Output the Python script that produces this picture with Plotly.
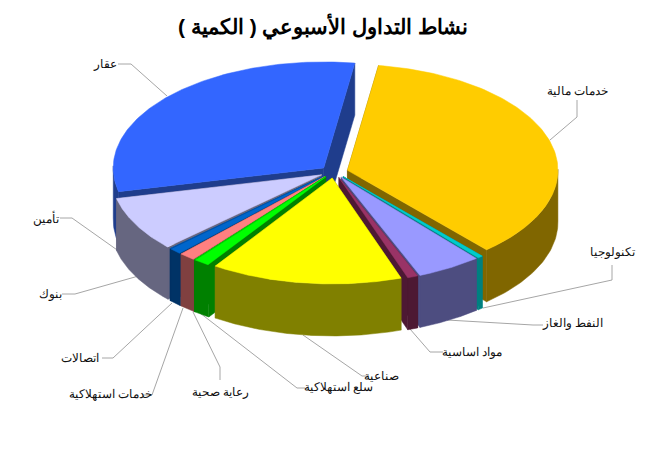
import numpy as np
import plotly.graph_objects as go

title_text = "نشاط التداول الأسبوعي ( الكمية )"
sectors = ["خدمات مالية", "تكنولوجيا", "النفط والغاز", "مواد اساسية", "صناعية", "سلع استهلاكية",
           "رعاية صحية", "خدمات استهلاكية", "اتصالات", "بنوك", "تأمين", "عقار"]
shares = [36.2, 0.4, 5.0, 0.8, 14.7, 1.25, 0.05, 1.3, 1.0, 0.05, 8.4, 31.0]
top_colors = ["#ffcc00", "#00cccc", "#9999ff", "#993366", "#ffff00", "#00ff00",
              "#00ff00", "#ff8080", "#0066cc", "#0066cc", "#ccccff", "#3366ff"]
wall_colors = ["#806600", "#008080", "#4d4d80", "#4d1933", "#808000", "#008000",
               "#008000", "#804040", "#003366", "#003366", "#666680", "#1f3d8c"]

# label centre and its leader-line path (layout furniture, page pixels)
label_layout = {
    "عقار": ((105, 64), [(118, 64), (131, 64), (167, 96)]),
    "خدمات مالية": ((577, 91), [(577, 100), (577, 117), (550, 140)]),
    "تكنولوجيا": ((612, 252), [(612, 265), (612, 280), (483, 308)]),
    "النفط والغاز": ((572, 323), [(543, 325), (533, 325), (447, 320)]),
    "مواد اساسية": ((472, 352), [(443, 352), (430, 352), (410, 329)]),
    "صناعية": ((381, 376), [(368, 376), (362, 376), (303, 335)]),
    "سلع استهلاكية": ((338, 387), [(305, 388), (297, 388), (200, 313)]),
    "رعاية صحية": ((220, 392), [(220, 380), (220, 367), (193, 312)]),
    "خدمات استهلاكية": ((110, 394), [(142, 395), (152, 395), (183, 308)]),
    "اتصالات": ((80, 358), [(102, 358), (113, 358), (172, 303)]),
    "بنوك": ((50, 294), [(62, 294), (75, 294), (142, 275)]),
    "تأمين": ((46, 218), [(60, 218), (72, 218), (120, 252)]),
}

START_DEG, CX, CY, A, B, DEPTH, EX, EY = 8.5, 334, 172, 210.5, 106, 52, 14, 6
PAGE_MARGIN = 8  # the page body offsets the figure by this much

fractions = np.array(shares) / sum(shares)
edges = START_DEG + 360 * np.concatenate([[0], np.cumsum(fractions)])

fig = go.Figure()


def poly(xs, ys, color):
    fig.add_trace(go.Scatter(x=xs, y=ys, mode="lines", fill="toself", fillcolor=color,
                             line=dict(color=color, width=0.5), hoverinfo="skip", showlegend=False))


# leader lines first, so the pie covers their inner ends
for name in sectors:
    (lx, ly), path = label_layout[name]
    fig.add_trace(go.Scatter(x=[p[0] for p in path], y=[p[1] for p in path], mode="lines",
                             line=dict(color="#a6a6a6", width=1), hoverinfo="skip", showlegend=False))
    fig.add_annotation(x=lx, y=ly, text=name, showarrow=False,
                       font=dict(family="Liberation Sans", size=12, color="#111111"))

slices = []
for i in range(len(sectors)):
    t1, t2 = np.radians(edges[i]), np.radians(edges[i + 1])
    mid = (t1 + t2) / 2
    slices.append((np.cos(mid), i, t1, t2, mid))

# painter's order: back to front
for _, i, t1, t2, mid in sorted(slices, key=lambda s: -s[0]):
    ax, ay = CX + EX * np.sin(mid), CY - EY * np.cos(mid)
    ts = np.linspace(t1, t2, 120)
    ex, ey = ax + A * np.sin(ts), ay - B * np.cos(ts)
    top, wall = top_colors[i], wall_colors[i]
    # cut faces
    for k in (0, -1):
        poly([ax, ex[k], ex[k], ax, ax], [ay, ey[k], ey[k] + DEPTH, ay + DEPTH, ay], wall)
    # outer wall, front-facing part only
    front = np.cos(ts) < 0.02
    if front.any():
        fx, fy = ex[front], ey[front]
        poly(np.r_[fx, fx[::-1], fx[0]], np.r_[fy, fy[::-1] + DEPTH, fy[0]], wall)
    # top face
    poly(np.r_[ax, ex, ax], np.r_[ay, ey, ay], top)

fig.add_annotation(x=323, y=26, text=f"<b>{title_text}</b>", showarrow=False,
                   font=dict(family="Liberation Sans", size=21, color="#000000"))

fig.update_layout(width=660 - PAGE_MARGIN, height=450 - PAGE_MARGIN, margin=dict(l=0, r=0, t=0, b=0),
                  paper_bgcolor="white", plot_bgcolor="white", showlegend=False,
                  xaxis=dict(range=[PAGE_MARGIN, 660], visible=False, fixedrange=True),
                  yaxis=dict(range=[450, PAGE_MARGIN], visible=False, fixedrange=True))
fig.write_html("out.html", config={"displayModeBar": False})
